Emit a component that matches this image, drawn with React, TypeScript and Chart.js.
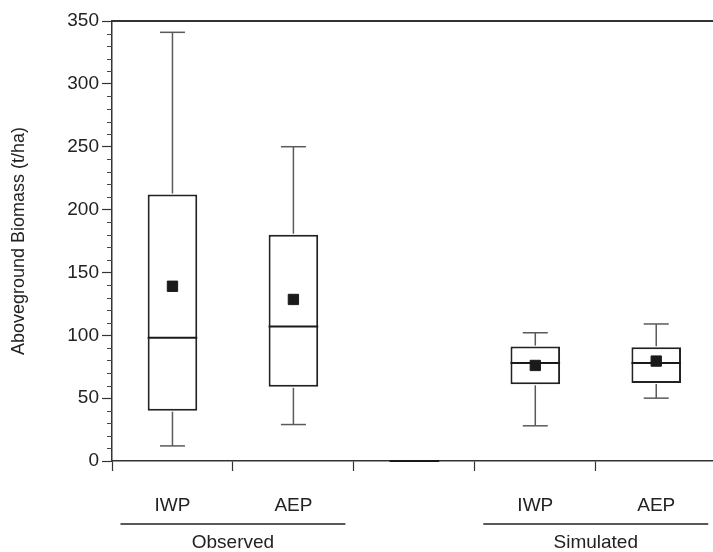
import { useEffect, useRef } from 'react';
import { Chart, registerables } from 'chart.js';

Chart.register(...registerables);

// ---- data ----
const categories = ['IWP', 'AEP', '', 'IWP', 'AEP'];
const groupNames = ['Observed', 'Simulated'];
const groupStart = [0, 3];
const groupEnd = [1, 4];
const whiskerLow = [12, 29, 0, 28, 50];
const quartile1 = [40, 59, 0, 61, 62];
const medians = [98, 107, 0, 78, 78];
const quartile3 = [212, 180, 0, 91, 90.5];
const whiskerHigh = [341, 250, 0, 102, 109];
const means: (number | null)[] = [139, 128.5, null, 76, 79.5];
const yMin = 0;
const yMax = 350;
const yMajorStep = 50;
const yMinorStep = 10;
const yTitle = 'Aboveground Biomass (t/ha)';

const FONT = "'Liberation Sans', Arial, Helvetica, sans-serif";
const BAR_PCT = 0.41;

const boxPlugin = {
  id: 'boxExtras',
  afterDatasetDraw(chart: any, args: any) {
    if (args.index !== 0) return;
    const ctx = chart.ctx;
    const x = chart.scales.x;
    const y = chart.scales.y;
    const catW = x.getPixelForValue(1) - x.getPixelForValue(0);
    const halfBox = (catW * BAR_PCT) / 2;
    const halfCap = 12.5;
    ctx.save();
    const line = (x1: number, y1: number, x2: number, y2: number) => {
      ctx.beginPath();
      ctx.moveTo(x1, y1);
      ctx.lineTo(x2, y2);
      ctx.stroke();
    };
    for (let i = 0; i < categories.length; i++) {
      const cx = x.getPixelForValue(i);
      ctx.strokeStyle = '#5a5a5a';
      ctx.lineWidth = 1.5;
      if (whiskerHigh[i] > quartile3[i]) {
        line(cx, y.getPixelForValue(quartile3[i]) - 1, cx, y.getPixelForValue(whiskerHigh[i]));
        line(cx - halfCap, y.getPixelForValue(whiskerHigh[i]), cx + halfCap, y.getPixelForValue(whiskerHigh[i]));
      }
      if (whiskerLow[i] < quartile1[i]) {
        line(cx, y.getPixelForValue(quartile1[i]) + 1, cx, y.getPixelForValue(whiskerLow[i]));
        line(cx - halfCap, y.getPixelForValue(whiskerLow[i]), cx + halfCap, y.getPixelForValue(whiskerLow[i]));
      }
      ctx.strokeStyle = '#1a1a1a';
      ctx.lineWidth = 2;
      line(cx - halfBox, y.getPixelForValue(medians[i]), cx + halfBox, y.getPixelForValue(medians[i]));
    }
    ctx.restore();
  },
  afterDraw(chart: any) {
    const ctx = chart.ctx;
    const x = chart.scales.x;
    const y = chart.scales.y;
    const area = chart.chartArea;
    ctx.save();
    // top frame line
    ctx.strokeStyle = '#333';
    ctx.lineWidth = 2;
    ctx.beginPath();
    ctx.moveTo(area.left - 1, area.top);
    ctx.lineTo(area.right, area.top);
    ctx.stroke();
    // minor ticks on y
    ctx.lineWidth = 1;
    ctx.strokeStyle = '#444';
    for (let v = yMin; v <= yMax; v += yMinorStep) {
      if (v % yMajorStep === 0) continue;
      const py = Math.round(y.getPixelForValue(v)) + 0.5;
      ctx.beginPath();
      ctx.moveTo(area.left - 5, py);
      ctx.lineTo(area.left, py);
      ctx.stroke();
    }
    // group underlines + labels
    ctx.strokeStyle = '#222';
    ctx.lineWidth = 1.5;
    ctx.fillStyle = '#222';
    ctx.font = `19px ${FONT}`;
    ctx.textAlign = 'center';
    ctx.textBaseline = 'middle';
    for (let g = 0; g < groupNames.length; g++) {
      const xs = x.getPixelForValue(groupStart[g]) - 52;
      const xe = x.getPixelForValue(groupEnd[g]) + 52;
      const ly = area.bottom + 63;
      ctx.beginPath();
      ctx.moveTo(xs, ly);
      ctx.lineTo(xe, ly);
      ctx.stroke();
      ctx.fillText(groupNames[g], (xs + xe) / 2, ly + 19);
    }
    ctx.restore();
  },
};

export default function App() {
  const ref = useRef<HTMLCanvasElement | null>(null);
  useEffect(() => {
    if (!ref.current) return;
    const chart = new Chart(ref.current, {
      type: 'bar',
      data: {
        labels: categories,
        datasets: [
          {
            type: 'bar',
            data: quartile1.map((v, i) => [v, quartile3[i]]) as any,
            backgroundColor: '#ffffff',
            borderColor: '#222222',
            borderWidth: 2,
            borderSkipped: false,
            categoryPercentage: 1,
            barPercentage: BAR_PCT,
            order: 2,
          } as any,
          {
            type: 'line',
            data: means as any,
            showLine: false,
            pointStyle: 'rect',
            pointRadius: 7.3,
            pointBorderWidth: 1,
            pointBackgroundColor: '#1a1a1a',
            pointBorderColor: '#1a1a1a',
            order: 1,
          } as any,
        ],
      },
      options: {
        animation: false,
        responsive: false,
        devicePixelRatio: 1,
        layout: { padding: { top: 21, right: 4, left: 0, bottom: 0 } },
        plugins: { legend: { display: false }, tooltip: { enabled: false } },
        scales: {
          x: {
            type: 'category',
            offset: true,
            grid: {
              offset: true,
              drawOnChartArea: false,
              tickLength: 10,
              tickColor: '#333',
              tickWidth: 1.2,
            },
            border: { color: '#333', width: 1.5 },
            ticks: {
              color: '#222',
              font: { family: FONT, size: 19 },
              padding: 23,
              maxRotation: 0,
              autoSkip: false,
            },
            afterFit: (s: any) => {
              s.height = 91;
            },
          },
          y: {
            min: yMin,
            max: yMax,
            grid: {
              drawOnChartArea: false,
              tickLength: 10,
              tickColor: '#333',
              tickWidth: 1.2,
            },
            border: { color: '#333', width: 1.5 },
            ticks: {
              stepSize: yMajorStep,
              color: '#222',
              font: { family: FONT, size: 19 },
              padding: 3,
            },
            title: {
              display: true,
              text: yTitle,
              color: '#222',
              font: { family: FONT, size: 18 },
              padding: { top: 8, bottom: 0 },
            },
            afterFit: (s: any) => {
              s.width = 112;
            },
          },
        },
      },
      plugins: [boxPlugin],
    });
    return () => chart.destroy();
  }, []);
  return (
    <div style={{ position: 'fixed', left: 0, top: 0, width: 713, height: 552, overflow: 'hidden', background: '#fff' }}>
      <canvas ref={ref} width={725} height={552} style={{ width: 725, height: 552, display: 'block' }} />
    </div>
  );
}
